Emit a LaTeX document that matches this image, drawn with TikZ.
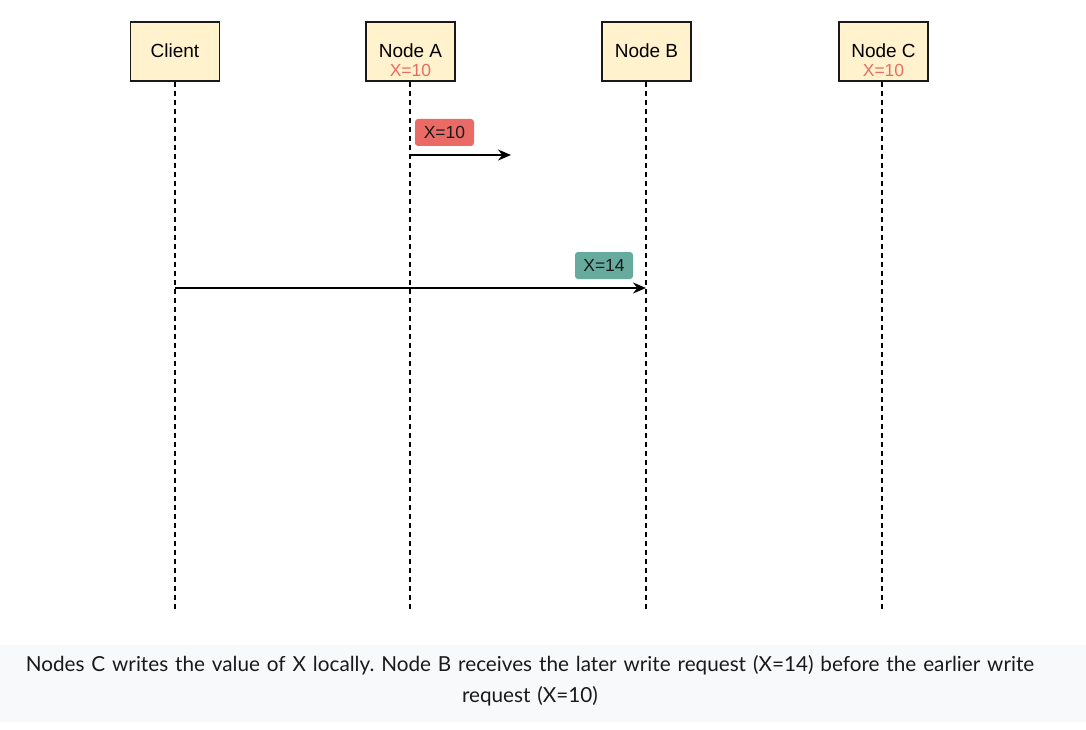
\documentclass[tikz,border=0pt]{standalone}
\usepackage{fontspec}
\setmainfont{Liberation Sans}
\newfontfamily\capfont{Lato}
\usetikzlibrary{arrows.meta}
\definecolor{boxfill}{HTML}{FFF2CC}
\definecolor{redlab}{HTML}{EA6B66}
\definecolor{teallab}{HTML}{67AB9F}
\definecolor{capbg}{HTML}{F8F9FA}
\definecolor{captxt}{HTML}{1A1A1A}
\tikzset{
  actor/.style={draw=black!90, line width=1.5pt, fill=boxfill, minimum width=89pt, minimum height=59pt, inner sep=0pt},
  life/.style={line width=1.5pt, dash pattern=on 5pt off 4pt},
  msg/.style={line width=1.5pt, -{Stealth[length=13pt,width=11pt]}},
  tag/.style={rounded corners=3pt, minimum height=27pt, inner sep=0pt, text=black!90, font=\fontsize{17.5}{20}\selectfont},
  lbl/.style={font=\fontsize{19}{21}\selectfont, text=black, inner sep=0pt},
  val/.style={font=\fontsize{17.5}{19}\selectfont, text=redlab, inner sep=0pt}
}
\begin{document}
\begin{tikzpicture}[x=1pt,y=-1pt]
\useasboundingbox (0,0) rectangle (1086,730);
\fill[capbg] (0,645) rectangle (1086,722);
% actors
\node[actor] (client) at (175,51.5) {};
\node[actor] (na) at (410.5,51.5) {};
\node[actor] (nb) at (646.5,51.5) {};
\node[actor] (nc) at (883.5,51.5) {};
\node[lbl] (tclient) at (175,51) {Client};
\node[lbl] (tna) at (410.5,51) {Node A};
\node[val] (vna) at (410.5,70) {X=10};
\node[lbl] (tnb) at (646.5,51) {Node B};
\node[lbl] (tnc) at (883.5,51) {Node C};
\node[val] (vnc) at (883.5,70) {X=10};
% lifelines
\coordinate (ec) at (175,612);
\coordinate (ea) at (410,612);
\coordinate (eb) at (646,612);
\coordinate (ed) at (882,612);
\draw[life] (client.south -| ec) -- (ec);
\draw[life] (na.south -| ea) -- (ea);
\draw[life] (nb.south -| eb) -- (eb);
\draw[life] (nc.south -| ed) -- (ed);
% messages
\coordinate (m1s) at (410,155);
\coordinate (m1e) at (511,155);
\draw[msg] (m1s) -- (m1e);
\node[tag, fill=redlab, minimum width=59pt] (t1) at (444.5,132.5) {X=10};
\coordinate (m2s) at (175,288);
\coordinate (m2e) at (646,288);
\draw[msg] (m2s) -- (m2e);
\node[tag, fill=teallab, minimum width=58pt] (t2) at (604,265.5) {X=14};
% caption
\node[font=\capfont\frenchspacing\fontsize{20.7}{31}\selectfont, text=captxt, align=center, text width=1080pt, inner sep=0pt] (cap) at (530,680.5)
{Nodes C writes the value of X locally. Node B receives the later write request (X=14) before the earlier write\\request (X=10)};
\end{tikzpicture}
\end{document}
